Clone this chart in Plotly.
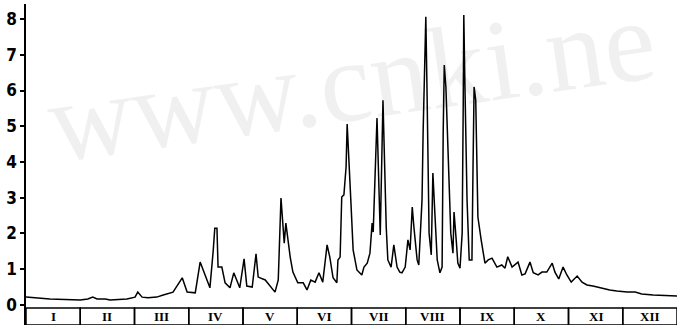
import plotly.graph_objects as go

# time axis in months (0 = start of January, 12 = end of December)
months = [0, 0.44, 1.0, 1.14, 1.23, 1.31, 1.46, 1.55, 1.86, 2.01, 2.06, 2.14, 2.25, 2.41, 2.53, 2.71,
          2.88, 2.97, 3.12, 3.21, 3.28, 3.39, 3.45, 3.48, 3.52, 3.54, 3.61, 3.67, 3.76, 3.83, 3.94,
          4.02, 4.07, 4.17, 4.24, 4.28, 4.41, 4.59, 4.65, 4.70, 4.76, 4.79, 4.87, 4.92, 5.01, 5.11,
          5.18, 5.25, 5.33, 5.40, 5.47, 5.55, 5.60, 5.66, 5.73, 5.75, 5.79, 5.82, 5.86, 5.90, 5.92,
          5.95, 5.99, 6.03, 6.10, 6.19, 6.23, 6.29, 6.34, 6.38, 6.40, 6.47, 6.53, 6.58, 6.64, 6.67,
          6.73, 6.78, 6.84, 6.89, 6.93, 6.99, 7.04, 7.08, 7.12, 7.15, 7.21, 7.24, 7.30, 7.32, 7.37,
          7.39, 7.43, 7.47, 7.50, 7.54, 7.58, 7.63, 7.67, 7.69, 7.71, 7.74, 7.78, 7.83, 7.87, 7.89,
          7.93, 7.96, 8.00, 8.04, 8.06, 8.07, 8.09, 8.13, 8.17, 8.22, 8.24, 8.26, 8.29, 8.33, 8.39,
          8.46, 8.52, 8.59, 8.68, 8.77, 8.83, 8.88, 8.96, 9.07, 9.14, 9.20, 9.29, 9.35, 9.44, 9.51,
          9.60, 9.70, 9.75, 9.82, 9.90, 9.97, 10.05, 10.16, 10.25, 10.34, 10.45, 10.54, 10.64, 10.76,
          10.89, 11.08, 11.23, 11.35, 11.56, 11.82, 12.0]

values = [0.22, 0.17, 0.14, 0.17, 0.22, 0.17, 0.17, 0.14, 0.17, 0.22, 0.36, 0.22, 0.20, 0.22, 0.28, 0.36,
          0.76, 0.36, 0.34, 1.20, 0.92, 0.48, 1.50, 2.15, 2.15, 1.06, 1.06, 0.62, 0.48, 0.90, 0.48,
          1.29, 0.53, 0.50, 1.43, 0.78, 0.70, 0.36, 0.70, 2.99, 1.73, 2.29, 1.34, 0.92, 0.62, 0.62,
          0.42, 0.70, 0.64, 0.90, 0.64, 1.68, 1.34, 0.76, 0.62, 1.26, 1.34, 3.02, 3.08, 3.86, 5.06,
          4.25, 2.85, 1.54, 0.98, 0.84, 1.06, 1.17, 1.45, 2.29, 2.04, 5.23, 1.96, 5.73, 2.18, 1.26,
          1.06, 1.68, 1.06, 0.92, 0.90, 1.06, 1.82, 1.54, 2.74, 2.18, 1.26, 1.12, 2.94, 4.81, 8.06,
          6.21, 2.01, 1.40, 3.69, 2.46, 1.26, 0.90, 1.06, 4.81, 6.71, 6.10, 4.34, 2.01, 1.45, 2.60,
          1.82, 1.17, 1.03, 2.01, 5.73, 8.11, 6.21, 2.94, 1.26, 1.26, 3.86, 6.10, 5.73, 2.46, 1.82,
          1.17, 1.26, 1.31, 1.06, 1.12, 1.03, 1.35, 1.06, 1.20, 0.84, 0.87, 1.20, 0.90, 0.84, 0.92,
          0.92, 1.17, 0.92, 0.73, 1.06, 0.84, 0.64, 0.81, 0.64, 0.56, 0.53, 0.50, 0.45, 0.42,
          0.39, 0.36, 0.36, 0.31, 0.28, 0.25, 0.25]

month_labels = ["I", "II", "III", "IV", "V", "VI", "VII", "VIII", "IX", "X", "XI", "XII"]
y_ticks = [0, 1, 2, 3, 4, 5, 6, 7, 8]

fig = go.Figure()
fig.add_trace(go.Scatter(x=months, y=values, mode="lines",
                         line=dict(color="black", width=1.5), hoverinfo="skip",
                         showlegend=False))

box_top, box_bottom = -0.085, -0.56
shapes = []
annotations = []
for i, lab in enumerate(month_labels):
    shapes.append(dict(type="rect", xref="x", yref="y", x0=i, x1=i + 1,
                       y0=box_bottom, y1=box_top,
                       line=dict(color="black", width=1.5)))
    annotations.append(dict(x=i + 0.5, y=(box_top + box_bottom) / 2, xref="x", yref="y",
                            text="<b>%s</b>" % lab, showarrow=False,
                            font=dict(family="Liberation Serif", size=13, color="black")))

# faint watermark
annotations.append(dict(x=0.5, y=0.76, xref="paper", yref="paper", text="www.cnki.ne",
                        showarrow=False, textangle=-8, xanchor="center", yanchor="middle",
                        font=dict(family="Liberation Serif", size=116,
                                  color="rgba(0,0,0,0.06)")))

fig.update_layout(
    width=683, height=329,
    margin=dict(l=26, r=6, t=4, b=4),
    paper_bgcolor="white", plot_bgcolor="white",
    shapes=shapes, annotations=annotations,
    xaxis=dict(range=[0, 12], showgrid=False, zeroline=False, showticklabels=False,
               showline=False, ticks=""),
    yaxis=dict(range=[-0.56, 8.42], showgrid=False, zeroline=False,
               tickmode="array", tickvals=y_ticks, ticktext=["<b>%d</b>" % v for v in y_ticks],
               ticks="outside", ticklen=4, tickwidth=1.5, tickcolor="black",
               showline=True, linecolor="black", linewidth=1.5,
               tickfont=dict(family="Liberation Sans Narrow, DejaVu Sans Condensed",
                             size=17, color="black")),
)

fig.write_html("out.html", config={"displayModeBar": False},
               post_script="document.body.style.margin='0';")
